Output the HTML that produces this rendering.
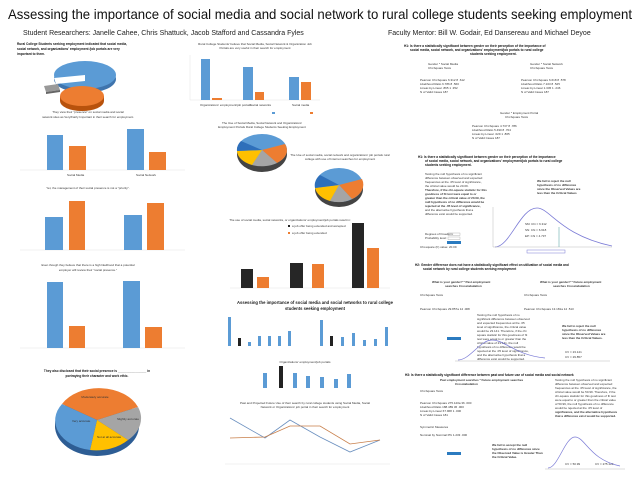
<!DOCTYPE html>
<html><head><meta charset="utf-8"><style>
html,body{margin:0;padding:0;background:#fff;}
svg{display:block;font-family:"Liberation Sans",sans-serif;}
.t{font-size:3px;fill:#333}
.b{font-size:3.2px;fill:#111;font-weight:bold}
.ax{stroke:#ddd;stroke-width:0.4}
</style></head><body>
<svg width="640" height="480" viewBox="0 0 640 480" xmlns="http://www.w3.org/2000/svg">
<rect width="640" height="480" fill="#fff"/>
<text x="8" y="19" textLength="624" lengthAdjust="spacingAndGlyphs" font-size="14" fill="#111">Assessing the importance of social media and social network to rural college students seeking employment</text>
<text x="23" y="35" font-size="7" fill="#222">Student Researchers: Janelle Cahee, Chris Shattuck, Jacob Stafford and Cassandra Fyles</text>
<text x="388" y="35" font-size="7" fill="#222">Faculty Mentor:  Bill W. Godair, Ed Dansereau and Michael Deyoe</text>

<!-- LEFT COLUMN -->
<text x="17" y="45" class="b">Rural College Students seeking employment indicated that social media,</text>
<text x="17" y="50" class="b">social network, and organizations' employment /job portals are very</text>
<text x="17" y="55" class="b">important to them.</text>
<!-- 3D pie top -->
<ellipse cx="85" cy="79" rx="31" ry="14" fill="#3f74ad"/>
<ellipse cx="85" cy="75" rx="31" ry="14" fill="#5b9bd5"/>
<path d="M85,75 L54,78 L56,84 L85,81 Z" fill="#fff"/>
<ellipse cx="82" cy="101" rx="22" ry="10" fill="#b8520c"/>
<rect x="60" y="96" width="44" height="5" fill="#b8520c"/>
<ellipse cx="82" cy="96" rx="22" ry="10" fill="#ed7d31"/>
<path d="M44,86 L58,84 L60,90 L46,92 Z" fill="#999"/>
<path d="M46,92 L60,90 L60,92 L46,94 Z" fill="#666"/>
<text x="88" y="113" class="t" text-anchor="middle">They view their "presence" on social media and social</text>
<text x="88" y="118" class="t" text-anchor="middle">network sites as Very/Fairly Important in their search for employment.</text>
<g>
<line x1="20" y1="170" x2="185" y2="170" class="ax"/>
<rect x="47" y="135" width="16" height="35" fill="#5b9bd5"/><rect x="69" y="146" width="17" height="24" fill="#ed7d31"/>
<rect x="127" y="129" width="17" height="41" fill="#5b9bd5"/><rect x="149" y="152" width="17" height="18" fill="#ed7d31"/>
<text x="67" y="176" class="t">Social Media</text><text x="136" y="176" class="t">Social Network</text>
</g>
<text x="88" y="189" class="t" text-anchor="middle" font-size="3.4">Yet, the management of their social presence is not a "priority".</text>
<g>
<line x1="20" y1="250" x2="185" y2="250" class="ax"/>
<rect x="45" y="217" width="18" height="33" fill="#5b9bd5"/><rect x="69" y="201" width="16" height="49" fill="#ed7d31"/>
<rect x="124" y="215" width="18" height="35" fill="#5b9bd5"/><rect x="147" y="203" width="17" height="47" fill="#ed7d31"/>
</g>
<text x="88" y="266" class="t" text-anchor="middle" font-size="3.4">Even though they believe that there is a high likelihood that a potential</text>
<text x="88" y="271" class="t" text-anchor="middle" font-size="3.4">employer will review their "social presence."</text>
<g>
<line x1="20" y1="348" x2="185" y2="348" class="ax"/>
<rect x="47" y="282" width="16" height="66" fill="#5b9bd5"/><rect x="69" y="326" width="16" height="22" fill="#ed7d31"/>
<rect x="123" y="281" width="17" height="67" fill="#5b9bd5"/><rect x="145" y="327" width="17" height="21" fill="#ed7d31"/>
</g>
<text x="97" y="372" class="b" text-anchor="middle">They also disclosed that their social presence is ________________ in</text>
<text x="97" y="377" class="b" text-anchor="middle">portraying their character and work ethic.</text>
<!-- pie bottom -->
<ellipse cx="97" cy="425" rx="42" ry="30" fill="#555"/>
<path d="M55,420 A42,30 0 0 0 139,420 L139,426 A42,30 0 0 1 55,426 Z" fill="#2d5d94"/>
<path d="M97,420 L62,404 A42,30 0 0 1 138,407 Z" fill="#ed7d31"/>
<path d="M97,420 L138,407 A42,30 0 0 1 128,440 Z" fill="#a5a5a5"/>
<path d="M97,420 L128,440 A42,30 0 0 1 90,450 Z" fill="#ffc000"/>
<path d="M97,420 L90,450 A42,30 0 0 1 62,404 Z" fill="#5b9bd5"/>
<text x="95" y="398" class="t" text-anchor="middle">Moderately accurate</text>
<text x="72" y="422" class="t">Very accurate</text>
<text x="117" y="420" class="t">Slightly accurate</text>
<text x="97" y="438" class="t">Not at all accurate</text>

<!-- MIDDLE COLUMN -->
<text x="255" y="45" class="t" text-anchor="middle">Rural College Students' believe that Social Media, Social Network &amp; Organization Job</text>
<text x="255" y="49" class="t" text-anchor="middle">Portals are very useful in their search for employment</text>
<line x1="190" y1="100" x2="320" y2="100" class="ax"/><line x1="190" y1="55" x2="190" y2="100" class="ax"/>
<rect x="201" y="59" width="9" height="41" fill="#5b9bd5"/><rect x="212" y="98" width="10" height="2" fill="#ed7d31"/>
<rect x="243" y="67" width="10" height="33" fill="#5b9bd5"/><rect x="255" y="92" width="9" height="8" fill="#ed7d31"/>
<rect x="289" y="77" width="10" height="23" fill="#5b9bd5"/><rect x="301" y="82" width="10" height="18" fill="#ed7d31"/>
<text x="200" y="106" class="t">Organizations' employment/job portals</text><text x="250" y="106" class="t">Social networks</text><text x="292" y="106" class="t">Social media</text>
<rect x="272" y="112" width="3" height="2" fill="#5b9bd5"/><rect x="310" y="112" width="3" height="2" fill="#ed7d31"/>

<text x="262" y="124" class="t" text-anchor="middle">The Use of Social Media, Social Network and Organizations'</text>
<text x="262" y="128" class="t" text-anchor="middle">Employment Portals Rural College Students Seeking Employment</text>
<ellipse cx="262" cy="154" rx="25" ry="18" fill="#444"/>
<ellipse cx="262" cy="150" rx="25" ry="16" fill="#5b9bd5"/>
<path d="M262,150 L285,144 A25,16 0 0 1 277,163 Z" fill="#ed7d31"/>
<path d="M262,150 L277,163 A25,16 0 0 1 252,165 Z" fill="#a5a5a5"/>
<path d="M262,150 L252,165 A25,16 0 0 1 237,151 Z" fill="#ffc000"/>
<path d="M262,150 L237,151 A25,16 0 0 1 241,141 Z" fill="#2e6fba"/>
<text x="340" y="156" class="t" text-anchor="middle">The Use of social media, social network and organizations' job portals rural</text>
<text x="340" y="160" class="t" text-anchor="middle">college with use of Internet searches for employment</text>
<ellipse cx="339" cy="189" rx="24" ry="18" fill="#444"/>
<ellipse cx="339" cy="185" rx="24" ry="17" fill="#5b9bd5"/>
<path d="M339,185 L362,179 A24,17 0 0 1 352,199 Z" fill="#ed7d31"/>
<path d="M339,185 L352,199 A24,17 0 0 1 330,201 Z" fill="#a5a5a5"/>
<path d="M339,185 L330,201 A24,17 0 0 1 315,188 Z" fill="#ffc000"/>
<path d="M339,185 L315,188 A24,17 0 0 1 320,175 Z" fill="#2e6fba"/>

<text x="290" y="221" class="t" text-anchor="middle">The use of social media, social networks, or organizations' employment/job portals result in:</text>
<rect x="288" y="225" width="2" height="2" fill="#222"/><text x="292" y="227" class="t">a job offer being extended and accepted</text>
<rect x="288" y="232" width="2" height="2" fill="#ed7d31"/><text x="292" y="234" class="t">a job offer being extended</text>
<line x1="230" y1="288" x2="390" y2="288" class="ax"/>
<rect x="241" y="269" width="12" height="19" fill="#262626"/><rect x="257" y="277" width="12" height="11" fill="#ed7d31"/>
<rect x="290" y="263" width="13" height="25" fill="#262626"/><rect x="312" y="264" width="12" height="24" fill="#ed7d31"/>
<rect x="352" y="223" width="12" height="65" fill="#262626"/><rect x="367" y="248" width="12" height="40" fill="#ed7d31"/>

<text x="315" y="304" font-size="4.2" font-weight="bold" fill="#222" text-anchor="middle">Assessing the importance of social media and social networks to rural college</text>
<text x="315" y="310" font-size="4.2" font-weight="bold" fill="#222" text-anchor="middle">students seeking employment</text>
<g fill="#5b9bd5">
<rect x="228" y="317" width="3" height="29"/><rect x="238" y="338" width="3" height="8" fill="#222"/><rect x="248" y="342" width="3" height="4"/><rect x="258" y="336" width="3" height="10"/><rect x="268" y="336" width="3" height="10"/><rect x="278" y="336" width="3" height="10"/><rect x="288" y="331" width="3" height="15"/>
<rect x="320" y="320" width="3" height="26"/><rect x="330" y="336" width="3" height="10" fill="#222"/><rect x="341" y="337" width="3" height="9"/><rect x="352" y="333" width="3" height="13"/><rect x="363" y="340" width="3" height="6"/><rect x="374" y="339" width="3" height="7"/><rect x="385" y="327" width="3" height="19"/>
<rect x="263" y="373" width="4" height="15"/><rect x="279" y="366" width="4" height="22" fill="#222"/><rect x="293" y="373" width="4" height="15"/><rect x="306" y="376" width="4" height="12"/><rect x="320" y="377" width="4" height="11"/><rect x="334" y="379" width="4" height="9"/><rect x="347" y="374" width="4" height="14"/>
</g>
<text x="305" y="363" class="t" text-anchor="middle">Organizations' employment/job portals</text>
<text x="305" y="404" class="t" text-anchor="middle">Past and Projected Future Use of their search by rural college students using Social Media, Social</text>
<text x="305" y="408" class="t" text-anchor="middle">Network or Organizations' job portal in their search for employment</text>
<polyline points="230,418 265,438 290,420 320,437 350,452 380,440" fill="none" stroke="#6a8fbf" stroke-width="0.8"/>
<polyline points="230,438 265,437 290,426 320,426 350,444 380,440" fill="none" stroke="#c87f4a" stroke-width="0.8"/>
<line x1="225" y1="464" x2="390" y2="464" class="ax"/>

<!-- RIGHT COLUMN -->
<text x="404" y="47" class="b">H1: Is there a statistically significant between gender on their perception of the importance of</text>
<text x="410" y="51" class="b">social media, social network, and organizations' employment/job portals to rural college</text>
<text x="470" y="55" class="b">students seeking employment.</text>
<g class="t">
<text x="428" y="65">Gender * Social Media</text><text x="428" y="69">Chi-Square Tests</text>
<text x="420" y="81">Pearson Chi-Square 6.312 8 .612</text><text x="420" y="85">Likelihood Ratio 6.786 8 .560</text><text x="420" y="89">Linear-by-Linear .865 1 .352</text><text x="420" y="93">N of Valid Cases 187</text>
<text x="530" y="65">Gender * Social Network</text><text x="530" y="69">Chi-Square Tests</text>
<text x="521" y="81">Pearson Chi-Square 6.618 8 .578</text><text x="521" y="85">Likelihood Ratio 7.103 8 .525</text><text x="521" y="89">Linear-by-Linear 1.345 1 .246</text><text x="521" y="93">N of Valid Cases 187</text>
<text x="500" y="114">Gender * Employment Portal</text><text x="505" y="118">Chi-Square Tests</text>
<text x="472" y="127">Pearson Chi-Square 4.737 8 .786</text><text x="472" y="131">Likelihood Ratio 5.490 8 .704</text><text x="472" y="135">Linear-by-Linear .029 1 .865</text><text x="472" y="139">N of Valid Cases 187</text>
</g>
<text x="418" y="158" class="b">H1: Is there a statistically significant between gender on their perception of the importance</text>
<text x="425" y="162" class="b">of social media, social network, and organizations' employment/job portals to rural college</text>
<text x="425" y="166" class="b">students seeking employment.</text>
<g class="t">
<text x="425" y="175">Testing the null hypothesis of no significant</text><text x="425" y="179">difference between observed and expected</text><text x="425" y="183">frequencies at the .05 level of significance,</text><text x="425" y="187">the critical value would be 20.09.</text>
<text x="425" y="191" font-weight="bold">Therefore, if the chi-square statistic for this</text><text x="425" y="195" font-weight="bold">goodness of fit test were equal to or</text><text x="425" y="199" font-weight="bold">greater than the critical value of 20.09, the</text><text x="425" y="203" font-weight="bold">null hypothesis of no difference would be</text><text x="425" y="207" font-weight="bold">rejected at the .05 level of significance,</text><text x="425" y="211">and the alternative hypothesis that a</text><text x="425" y="215">difference exist would be supported.</text>
<text x="537" y="182" font-weight="bold">We fail to reject the null</text><text x="537" y="186" font-weight="bold">hypothesis of no difference</text><text x="537" y="190" font-weight="bold">since the Observed Values are</text><text x="537" y="194" font-weight="bold">less than the Critical Values</text>
<text x="525" y="225">SM: Chi = 6.312</text><text x="525" y="231">SN: Chi = 6.618</text><text x="525" y="237">EP: Chi = 4.737</text>
</g>
<path d="M495,247 C510,247 520,208 537,208 C550,208 560,235 612,246" fill="none" stroke="#7b7bd6" stroke-width="0.8"/>
<line x1="493" y1="247" x2="612" y2="247" stroke="#aaa" stroke-width="0.4"/><line x1="493" y1="207" x2="493" y2="247" stroke="#aaa" stroke-width="0.4"/>
<line x1="559" y1="227" x2="559" y2="247" stroke="#6aa" stroke-width="0.6"/>
<rect x="527" y="250" width="38" height="3" fill="none" stroke="#7b7bd6" stroke-width="0.5"/>
<rect x="448" y="233" width="12" height="2.5" fill="none" stroke="#888" stroke-width="0.3"/><rect x="448" y="237" width="12" height="2.5" fill="none" stroke="#888" stroke-width="0.3"/>
<rect x="447" y="241" width="14" height="3" fill="#2b7bc0"/>
<text x="425" y="235" class="t" fill="#36c">Degrees of Freedom:</text><text x="425" y="239" class="t" fill="#36c">Probability level:</text><text x="420" y="248" class="t" fill="#36c">Chi-square (F) value: 20.09</text>

<text x="415" y="266" class="b">H2: Gender difference does not have a statistically significant effect on utilization of social media and</text>
<text x="423" y="270" class="b">social network by rural college students seeking employment</text>
<g class="t">
<text x="432" y="283" font-weight="bold">What is your gender? * Past employment</text><text x="445" y="287" font-weight="bold">searches Crosstabulation</text>
<text x="540" y="283" font-weight="bold">What is your gender? * Future employment</text><text x="553" y="287" font-weight="bold">searches Crosstabulation</text>
<text x="420" y="296">Chi-Square Tests</text><text x="524" y="296">Chi-Square Tests</text>
<text x="420" y="310">Pearson Chi-Square   29.857a  14  .008</text><text x="524" y="310">Pearson Chi-Square   13.181a  14  .513</text>
<text x="477" y="316">Testing the null hypothesis of no</text><text x="477" y="320">significant difference between observed</text><text x="477" y="324">and expected frequencies at the .05</text><text x="477" y="328">level of significance, the critical value</text><text x="477" y="332">would be 23.141. Therefore, if the chi</text><text x="477" y="336">square statistic for this goodness of fit</text><text x="477" y="340">test were equal to or greater than the</text><text x="477" y="344">critical value of 23.141, the null</text><text x="477" y="348">hypothesis of no difference would be</text><text x="477" y="352">rejected at the .05 level of significance,</text><text x="477" y="356">and the alternative hypothesis that a</text><text x="477" y="360">difference exist would be supported.</text>
<text x="562" y="327" font-weight="bold">We fail to reject the null</text><text x="562" y="331" font-weight="bold">hypothesis of no difference</text><text x="562" y="335" font-weight="bold">since the Observed Values are</text><text x="562" y="339" font-weight="bold">less than the Critical Values.</text>
<text x="565" y="353">CV = 23.141</text><text x="565" y="358">CV = 29.857</text>
</g>
<path d="M458,360 C470,360 480,340 492,340 C505,340 515,355 545,358" fill="none" stroke="#7b7bd6" stroke-width="0.7"/>
<line x1="455" y1="361" x2="610" y2="361" stroke="#aaa" stroke-width="0.4"/>
<rect x="447" y="337" width="14" height="3" fill="#2b7bc0"/>

<text x="405" y="376" class="b">H3: Is there a statistically significant difference between past and future use of social media and social network</text>
<g class="t">
<text x="440" y="381" font-weight="bold">Past employment searches * Future employment searches</text><text x="455" y="385" font-weight="bold">Crosstabulation</text>
<text x="420" y="392">Chi-Square Tests</text>
<text x="420" y="404">Pearson Chi-Square  275.120a  36  .000</text><text x="420" y="408">Likelihood Ratio  188.489  36  .000</text><text x="420" y="412">Linear-by-Linear  67.968  1  .000</text><text x="420" y="416">N of Valid Cases  181</text>
<text x="420" y="428">Symmetric Measures</text><text x="420" y="436">Nominal by Nominal  Phi  1.233  .000</text>
<text x="555" y="381">Testing the null hypothesis of no significant</text><text x="555" y="385">difference between observed and expected</text><text x="555" y="389">frequencies at the .05 level of significance, the</text><text x="555" y="393">critical value would be 50.99. Therefore, if the</text><text x="555" y="397">chi-square statistic for this goodness of fit test</text><text x="555" y="401">were equal to or greater than the critical value</text><text x="555" y="405">of 50.99, the null hypothesis of no difference</text><text x="555" y="409">would be rejected at the .05 level of</text><text x="555" y="413" font-weight="bold">significance, and the alternative hypothesis</text><text x="555" y="417" font-weight="bold">that a difference exist would be supported.</text>
<text x="492" y="446" font-weight="bold">We fail to accept the null</text><text x="492" y="450" font-weight="bold">hypothesis of no difference since</text><text x="492" y="454" font-weight="bold">the Observed Value is Greater Than</text><text x="492" y="458" font-weight="bold">the Critical Value.</text>
<text x="565" y="465">CV = 50.99</text><text x="595" y="465">CV = 275.120</text>
</g>
<path d="M548,468 C558,468 565,437 575,437 C585,437 590,460 620,466" fill="none" stroke="#7b7bd6" stroke-width="0.7"/>
<line x1="545" y1="469" x2="625" y2="469" stroke="#aaa" stroke-width="0.4"/>
<rect x="447" y="452" width="14" height="3" fill="#2b7bc0"/>
</svg>
</body></html>
